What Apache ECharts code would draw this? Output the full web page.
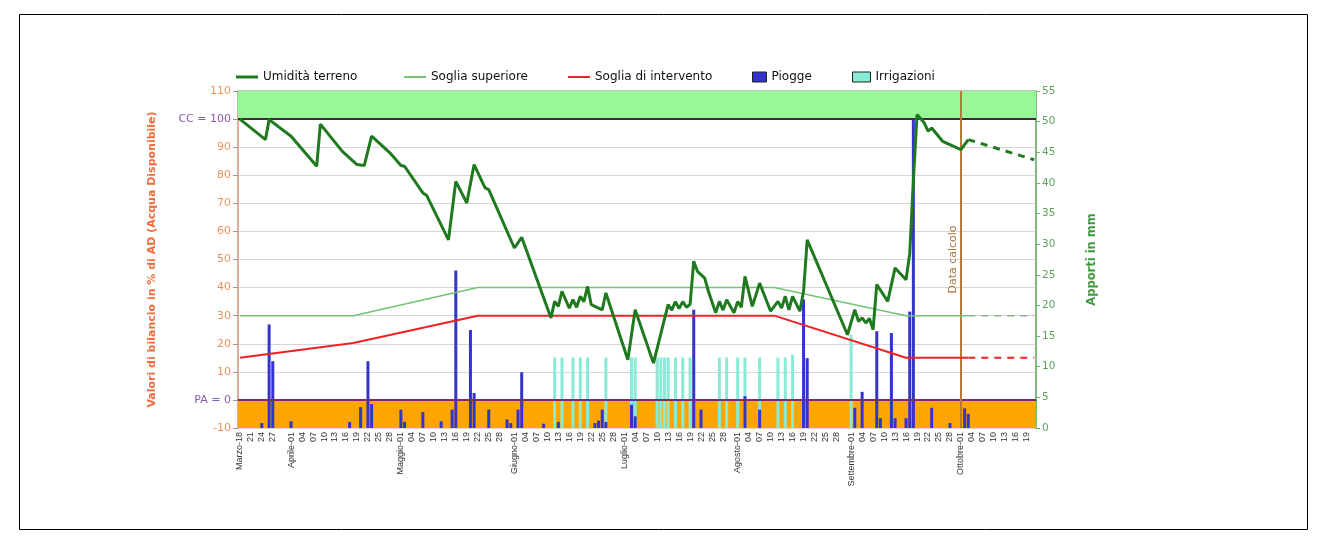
<!DOCTYPE html>
<html>
<head>
<meta charset="utf-8">
<title>Bilancio idrico</title>
<script src="https://cdn.jsdelivr.net/npm/echarts@6/dist/echarts.min.js"></script>
<style>
  html, body { margin: 0; padding: 0; background: #fff; }
  #chart { width: 1322px; height: 539px; }
</style>
</head>
<body>
<div id="chart"></div>
<script>
// mesi sull'asse: nome, primo giorno, ultimo giorno
const mesi = [
  ['Marzo', 18, 31], ['Aprile', 1, 30], ['Maggio', 1, 31], ['Giugno', 1, 30],
  ['Luglio', 1, 31], ['Agosto', 1, 31], ['Settembre', 1, 30], ['Ottobre', 1, 21]
];

// [indice giorno (0 = 18 marzo), % AD]
const umidita = [[0,100],[7,92.7],[8,99.8],[14,93.9],[21,83.2],[22,98.2],[28,88.5],[32,83.8],[34,83.5],[36,93.9],
  [41,88],[44,83.5],[45,83.2],[50,73.7],[51,72.9],[57,57],[59,77.8],[62,70.1],[64,83.8],[67,75.5],[68,74.9],
  [75,54.1],[77,57.9],[85,29.2],[86,35.1],[87,33.3],[88,38.7],[90,32.7],[91,35.7],[92,33],[93,36.9],[94,35],
  [95,40.4],[96,33.9],[99,32.1],[100,38.1],[106,14.3],[108,32.1],[113,13.1],[117,33.9],[118,32],[119,35],
  [120,32.5],[121,35],[122,33],[123,34],[124,49.4],[125,45.8],[127,43.4],[128,38.7],[130,31],[131,35.1],
  [132,32],[133,35.7],[135,31],[136,35],[137,33],[138,44],[140,33.3],[142,41.6],[145,31.6],[147,35.1],
  [148,32.7],[149,36.9],[150,32.1],[151,36.9],[153,31.6],[154,38.7],[155,57],[166,23.2],[168,32.1],[169,28],
  [170,29.2],[171,27.4],[172,29],[173,25],[174,41.1],[177,35.1],[179,47],[182,42.8],[183,52],[184,78],
  [185,101.6],[187,98.6],[188,95.7],[189,96.8],[192,92.1],[197,89.1],[199,92.7]];
const umiditaPrev = [[199,92.7],[217,85.5]];

const sogliaSup = [[0,30],[31,30],[65,40],[146,40],[182,30],[199,30]];
const sogliaSupPrev = [[199,30],[217,30]];
const sogliaInt = [[0,15],[31,20.3],[65,30],[146,30],[182,15],[199,15]];
const sogliaIntPrev = [[199,15],[217,15]];

// [indice giorno, mm]
const piogge = [[6,0.8],[8,16.9],[9,10.9],[14,1.1],[30,1],[33,3.4],[35,10.9],[36,3.9],[44,3],[45,1],[50,2.6],
  [55,1.1],[58,3],[59,25.7],[63,16],[64,5.7],[68,3],[73,1.4],[74,0.8],[76,3],[77,9.1],[83,0.7],[87,1],
  [97,0.8],[98,1.2],[99,3],[100,1],[107,3.8],[108,1.9],[124,19.3],[126,3],[138,5.2],[142,3],[154,21],
  [155,11.4],[168,3.3],[170,5.9],[174,15.8],[175,1.6],[178,15.5],[179,1.6],[182,1.6],[183,19],[184,50.6],
  [189,3.3],[194,0.8],[198,3.2],[199,2.3]];
const irrigazioni = [[86,11.5],[88,11.5],[91,11.5],[93,11.5],[95,11.5],[100,11.5],[107,11.5],[108,11.5],
  [114,11.5],[115,11.5],[116,11.5],[117,11.5],[119,11.5],[121,11.5],[123,11.5],[131,11.5],[133,11.5],
  [136,11.5],[138,11.5],[142,11.5],[147,11.5],[149,11.5],[151,12],[167,15.2]];

const dataCalcolo = 197;

const giorni = [], numGiorno = [], inizioMese = [];
mesi.forEach(([nome, da, a]) => {
  for (let g = da; g <= a; g++) {
    giorni.push(nome + '-' + String(g).padStart(2, '0'));
    numGiorno.push(g);
    inizioMese.push(da);
  }
});

const font = 'DejaVu Sans';
const chart = echarts.init(document.getElementById('chart'));

const legenda = (nome, left, w, h, extra) => Object.assign({
  data: [nome], left: left, top: 71, padding: 0, icon: 'rect',
  itemWidth: w, itemHeight: h, itemGap: 5,
  textStyle: { fontFamily: font, fontSize: 12, color: '#111' }
}, extra || {});

chart.setOption({
  animation: false,
  graphic: [{
    type: 'rect', left: 17, top: 12,
    shape: { width: 1288, height: 515 },
    style: { fill: 'none', stroke: '#000', lineWidth: 1 }
  }],
  legend: [
    legenda('Umidità terreno', 236, 22, 3),
    legenda('Soglia superiore', 404, 22, 2),
    legenda('Soglia di intervento', 568, 22, 2),
    legenda('Piogge', 752, 14, 10, { itemStyle: { borderColor: '#222', borderWidth: 1 } }),
    legenda('Irrigazioni', 852, 18, 10, { itemStyle: { borderColor: '#222', borderWidth: 1 } })
  ],
  grid: { left: 238, right: 286, top: 91, bottom: 111, show: true, borderColor: '#888', borderWidth: 1 },
  xAxis: {
    type: 'category',
    data: giorni,
    boundaryGap: true,
    axisLine: { lineStyle: { color: '#222' } },
    axisTick: { interval: 0, length: 3, alignWithLabel: true, lineStyle: { color: '#333' } },
    axisLabel: {
      rotate: 90, margin: 4, fontSize: 9, fontFamily: 'Liberation Sans', color: '#333',
      interval: (i) => (numGiorno[i] - inizioMese[i]) % 3 === 0 && numGiorno[i] <= 28,
      formatter: (v, i) => numGiorno[i] === inizioMese[i] ? v : v.slice(-2)
    }
  },
  yAxis: [{
    type: 'value', min: -10, max: 110, interval: 10,
    name: 'Valori di bilancio in % di AD (Acqua Disponibile)',
    nameLocation: 'middle', nameRotate: 90, nameGap: 80,
    nameTextStyle: { color: '#f26b3a', fontFamily: font, fontSize: 11, fontWeight: 'bold' },
    axisLine: { show: true, lineStyle: { color: '#e9a48c', width: 1.5 } },
    axisTick: { show: true, length: 5, lineStyle: { color: '#999' } },
    splitLine: { lineStyle: { color: '#d6d6d6' } },
    axisLabel: {
      margin: 7, fontFamily: font, fontSize: 11,
      formatter: (v) => v === 100 ? '{p|CC = 100}' : v === 0 ? '{p|PA = 0}' : '{o|' + v + '}',
      rich: {
        p: { color: '#8a5aa8', fontFamily: font, fontSize: 11 },
        o: { color: '#f0915a', fontFamily: font, fontSize: 11 }
      }
    }
  }, {
    type: 'value', min: 0, max: 55, interval: 5, position: 'right',
    name: 'Apporti in mm',
    nameLocation: 'middle', nameRotate: 90, nameGap: 50,
    nameTextStyle: { color: '#3f9a3f', fontFamily: font, fontSize: 11.5, fontWeight: 'bold' },
    axisLine: { show: true, lineStyle: { color: '#6cb46c', width: 1.5 } },
    axisTick: { show: true, length: 4, lineStyle: { color: '#6cb46c' } },
    splitLine: { show: false },
    axisLabel: { margin: 6, color: '#5aa55a', fontFamily: font, fontSize: 10.5 }
  }],
  series: [
    {
      type: 'line', data: [], z: 0, silent: true,
      markArea: {
        silent: true,
        data: [
          [{ yAxis: 100, itemStyle: { color: '#98f898' } }, { yAxis: 110 }],
          [{ yAxis: -10, itemStyle: { color: '#ffa500' } }, { yAxis: 0 }]
        ]
      }
    },
    {
      name: 'Irrigazioni', type: 'bar', yAxisIndex: 1, data: irrigazioni,
      barWidth: 3, barGap: '-100%', z: 2,
      itemStyle: { color: '#86ecd6' }
    },
    {
      name: 'Piogge', type: 'bar', yAxisIndex: 1, data: piogge,
      barWidth: 3, barGap: '-100%', z: 2,
      itemStyle: { color: '#3434cc' }
    },
    {
      type: 'line', data: [], z: 3, silent: true,
      markArea: {
        silent: true,
        data: [[{ yAxis: -10, itemStyle: { color: 'rgba(255,165,0,0.55)' } }, { yAxis: 0 }]]
      }
    },
    {
      type: 'line', data: [], z: 4, silent: true,
      markLine: {
        silent: true, symbol: ['none', 'none'],
        data: [
          { yAxis: 100, lineStyle: { color: '#3a2c3a', width: 2, type: 'solid' }, label: { show: false } },
          { yAxis: 0, lineStyle: { color: '#7b2d6b', width: 2, type: 'solid' }, label: { show: false } },
          {
            xAxis: giorni[dataCalcolo],
            lineStyle: { color: '#b5793a', width: 2, type: 'solid' },
            label: {
              show: true, formatter: 'Data calcolo', position: 'insideMiddleTop', distance: 2,
              color: '#a87440', fontFamily: font, fontSize: 11
            }
          }
        ]
      }
    },
    {
      name: 'Soglia superiore', type: 'line', data: sogliaSup, symbol: 'none', z: 5,
      lineStyle: { color: '#74c274', width: 1.5 }, itemStyle: { color: '#74c274' }
    },
    {
      name: 'Soglia superiore', type: 'line', data: sogliaSupPrev, symbol: 'none', z: 5,
      lineStyle: { color: '#8ab08a', width: 1.5, type: [7, 6] }, itemStyle: { color: '#74c274' }
    },
    {
      name: 'Soglia di intervento', type: 'line', data: sogliaInt, symbol: 'none', z: 5,
      lineStyle: { color: '#ee2222', width: 2 }, itemStyle: { color: '#ee2222' }
    },
    {
      name: 'Soglia di intervento', type: 'line', data: sogliaIntPrev, symbol: 'none', z: 5,
      lineStyle: { color: '#ee2222', width: 2, type: [7, 6] }, itemStyle: { color: '#ee2222' }
    },
    {
      name: 'Umidità terreno', type: 'line', data: umidita, symbol: 'none', z: 6,
      lineStyle: { color: '#1f7a1f', width: 3 }, itemStyle: { color: '#1f7a1f' }
    },
    {
      name: 'Umidità terreno', type: 'line', data: umiditaPrev, symbol: 'none', z: 6,
      lineStyle: { color: '#1f7a1f', width: 3, type: [7, 6] }, itemStyle: { color: '#1f7a1f' }
    }
  ]
});
</script>
</body>
</html>
